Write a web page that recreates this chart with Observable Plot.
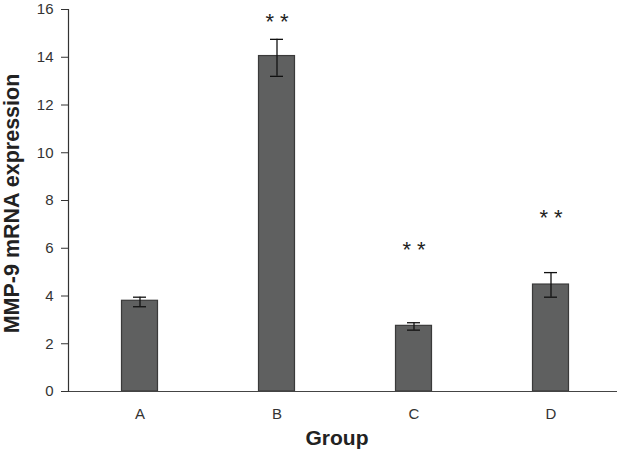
<!DOCTYPE html>
<html>
<head>
<meta charset="utf-8">
<script src="https://cdn.jsdelivr.net/npm/d3@7"></script>
<script src="https://cdn.jsdelivr.net/npm/@observablehq/plot@0.6"></script>
<style>
  body { margin: 0; background: #fff; }
  #chart svg { display: block; }
</style>
</head>
<body>
<div id="chart"></div>
<script>
const groups = ["A", "B", "C", "D"];
const means = [3.8, 14.05, 2.75, 4.48];
const errLow = [3.55, 13.2, 2.57, 3.95];
const errHigh = [3.95, 14.75, 2.88, 4.98];
const sigGroups = ["B", "C", "D"];
const sigLabels = ["* *", "* *", "* *"];
const sigY = [15.63, 6.09, 7.42];
const yTicks = [0, 2, 4, 6, 8, 10, 12, 14, 16];

const data = groups.map((g, i) => ({group: g, value: means[i], lo: errLow[i], hi: errHigh[i]}));
const sig = sigGroups.map((g, i) => ({group: g, label: sigLabels[i], y: sigY[i]}));

const W = 617, H = 452;
const chart = Plot.plot({
  width: W,
  height: H,
  marginLeft: 68,
  marginRight: 0,
  marginTop: 9,
  marginBottom: 61,
  style: {fontFamily: "'Liberation Sans', Arial, sans-serif", background: "#fff"},
  x: {type: "band", domain: groups, range: [70.5, 618.5], padding: 0, label: null},
  y: {domain: [0, 16], label: null},
  marks: [
    Plot.barY(data, {x: "group", y: "value", fill: "#5f6060", stroke: "#3a3a3a", strokeWidth: 1.2, insetLeft: 50.5, insetRight: 50.5}),
    Plot.ruleX(data, {x: "group", y1: "lo", y2: "hi", stroke: "#111", strokeWidth: 1.3}),
    Plot.tickY(data, {x: "group", y: "lo", stroke: "#111", strokeWidth: 1.3, insetLeft: 62, insetRight: 62}),
    Plot.tickY(data, {x: "group", y: "hi", stroke: "#111", strokeWidth: 1.3, insetLeft: 62, insetRight: 62}),
    Plot.text(sig, {x: "group", y: "y", text: "label", fontSize: 22, fill: "#222", dy: 4}),
    Plot.ruleY([0], {stroke: "#444", strokeWidth: 1.2}),
    Plot.frame({anchor: "left", stroke: "#333", strokeWidth: 1.2}),
    Plot.axisY({ticks: yTicks, tickSize: 7, tickPadding: 8, fontSize: 15, color: "#333", label: null, tickFormat: d => String(d)}),
    Plot.axisX({tickSize: 0, tickPadding: 17, fontSize: 15, color: "#333", label: null}),
    Plot.text(["Group"], {frameAnchor: "bottom", dx: -6, dy: 53, fontSize: 21, fontWeight: "bold", fill: "#222"}),
    Plot.text(["MMP-9 mRNA expression"], {frameAnchor: "left", textAnchor: "middle", dx: -56, dy: 3, rotate: -90, fontSize: 21.5, fontWeight: "bold", fill: "#222"})
  ]
});
document.getElementById("chart").append(chart);
</script>
</body>
</html>
